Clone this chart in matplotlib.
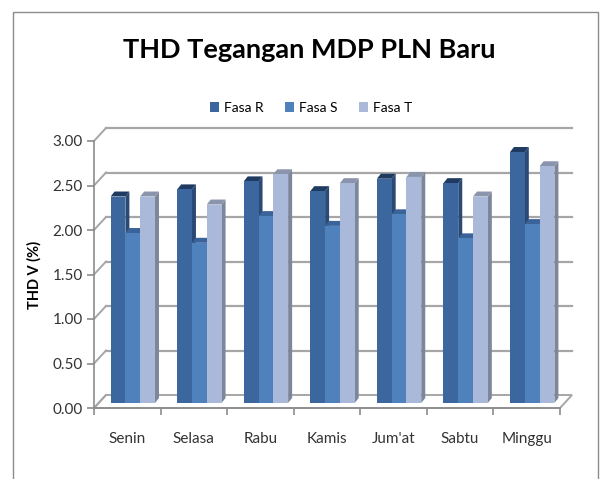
import numpy as np
import matplotlib
matplotlib.use("Agg")
import matplotlib.pyplot as plt
from matplotlib.patches import Polygon, Rectangle, Patch

plt.rcParams['font.family'] = ['Lato', 'DejaVu Sans']

# data
days = ["Senin", "Selasa", "Rabu", "Kamis", "Jum'at", "Sabtu", "Minggu"]
series = ["Fasa R", "Fasa S", "Fasa T"]
fasa_r = [2.32, 2.40, 2.49, 2.38, 2.52, 2.47, 2.82]
fasa_s = [1.91, 1.80, 2.10, 1.99, 2.12, 1.85, 2.01]
fasa_t = [2.32, 2.23, 2.57, 2.47, 2.54, 2.32, 2.66]
y_ticks = [0.0, 0.5, 1.0, 1.5, 2.0, 2.5, 3.0]

# colours: front, side, top
front_c = ['#3C679E', '#4F81BD', '#AAB9DA']
side_c = ['#2A4A75', '#3D6697', '#7D879B']
top_c = ['#1F3B61', '#3A6399', '#8A95AD']
grid_c = '#A6A6A6'

W, H = 606, 479
fig = plt.figure(figsize=(W / 100, H / 100), dpi=100)

# axes placed in pixels (front plane)
x_left, x_right = 94, 560
y_zero, y_top = 408, 141
ax = fig.add_axes([x_left / W, (H - y_zero) / H, (x_right - x_left) / W, (y_zero - y_top) / H])
n = len(days)
ax.set_xlim(0, n)
ax.set_ylim(0, 3)
ax.patch.set_alpha(0)

ux = n / (x_right - x_left)        # data units per pixel (x)
uy = 3.0 / (y_zero - y_top)        # data units per pixel (y)
wall_dx, wall_dy = 12 * ux, 13 * uy

# |>- walls and floor -<|
floor = Polygon([(0, 0), (n, 0), (n + wall_dx, wall_dy), (wall_dx, wall_dy)],
                closed=True, facecolor='white', edgecolor=grid_c, lw=1.4, clip_on=False, zorder=1)
ax.add_patch(floor)
for v in y_ticks:
    ax.plot([0, wall_dx], [v, v + wall_dy], color=grid_c, lw=1.4, clip_on=False, zorder=1)
    if v > 0:
        ax.plot([wall_dx, n + wall_dx], [v + wall_dy, v + wall_dy], color=grid_c, lw=1.6,
                clip_on=False, zorder=1)

# |>- bars -<|
bar_w = 1 / 4.5
d0x, d0y = 5.5 * ux, 5 * uy       # bar front offset into depth
ddx, ddy = 4 * ux, 5 * uy         # bar depth
values = [fasa_r, fasa_s, fasa_t]
for i in range(n):
    for k in range(3):
        h = values[k][i]
        x0 = i + 0.75 / 4.5 + k * bar_w + d0x
        b = d0y
        t = h + d0y
        x1 = x0 + bar_w
        side = Polygon([(x1, b), (x1 + ddx, b + ddy), (x1 + ddx, t + ddy), (x1, t)],
                       closed=True, facecolor=side_c[k], edgecolor='none', clip_on=False, zorder=3)
        top = Polygon([(x0, t), (x0 + ddx, t + ddy), (x1 + ddx, t + ddy), (x1, t)],
                      closed=True, facecolor=top_c[k], edgecolor='none', clip_on=False, zorder=3)
        front = Rectangle((x0, b), bar_w, h, facecolor=front_c[k], edgecolor='none',
                          clip_on=False, zorder=3)
        ax.add_patch(side)
        ax.add_patch(top)
        ax.add_patch(front)

# |>- axes formatting -<|
for s in ['top', 'right']:
    ax.spines[s].set_visible(False)
for s in ['left', 'bottom']:
    ax.spines[s].set_color('#8C8C8C')
    ax.spines[s].set_linewidth(1.2)
    ax.spines[s].set_zorder(2)
ax.spines['left'].set_bounds(0, 3)
ax.spines['bottom'].set_bounds(0, n)

ax.set_yticks(y_ticks)
ax.set_yticklabels([f"{v:.2f}" for v in y_ticks])
ax.tick_params(axis='y', length=5, width=1.2, color='#8C8C8C', pad=3,
               labelsize=11, labelcolor='#333333')

ax.set_xticks(np.arange(n + 1))
ax.set_xticklabels([])
ax.set_xticks(np.arange(n) + 0.5, minor=True)
ax.set_xticklabels(days, minor=True)
ax.tick_params(axis='x', which='major', length=5, width=1.2, color='#8C8C8C')
ax.tick_params(axis='x', which='minor', length=0, pad=17, labelsize=11, labelcolor='#333333')

ax.set_ylabel("THD V (%)", fontsize=10.5, fontweight='bold', labelpad=8)

# title and legend
fig.text(309 / W, 1 - 50 / H, "THD Tegangan MDP PLN Baru", ha='center', va='center',
         fontsize=19.5, fontweight='bold', color='black')
handles = [Patch(facecolor=front_c[k], edgecolor='none', label=series[k]) for k in range(3)]
fig.legend(handles=handles, loc='center', bbox_to_anchor=(311 / W, 1 - 108 / H), ncol=3,
           frameon=False, fontsize=10, handlelength=0.65, handleheight=0.7,
           handletextpad=0.4, columnspacing=1.5)

# outer chart border
border = Rectangle((13 / W, -0.02), (598 - 13) / W, 1.02 - 12 / H, transform=fig.transFigure,
                   facecolor='none', edgecolor='#8C8C8C', lw=1.0)
fig.patches.append(border)

plt.savefig("out.png", dpi=100)
